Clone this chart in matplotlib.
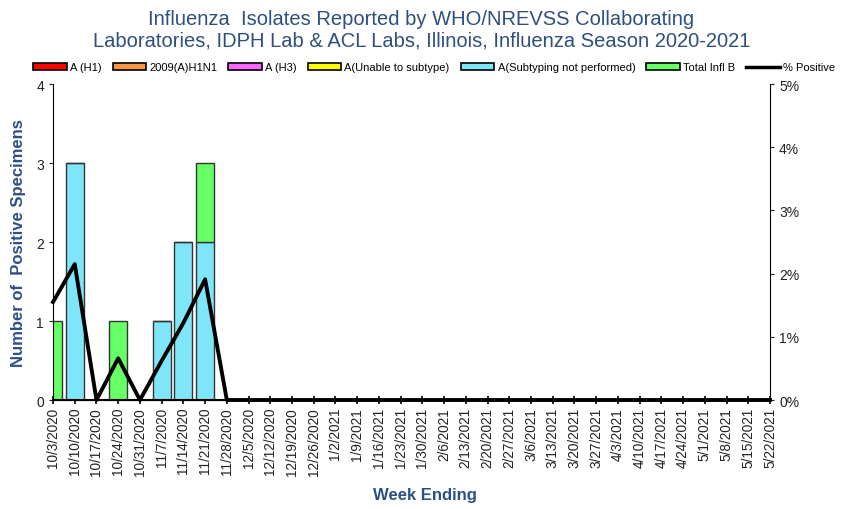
import numpy as np
import matplotlib
matplotlib.use("Agg")
import matplotlib.pyplot as plt
from matplotlib.patches import Patch
from matplotlib.lines import Line2D

plt.rcParams["font.family"] = ["Liberation Sans", "DejaVu Sans"]

weeks = ["10/3/2020", "10/10/2020", "10/17/2020", "10/24/2020", "10/31/2020",
         "11/7/2020", "11/14/2020", "11/21/2020", "11/28/2020", "12/5/2020",
         "12/12/2020", "12/19/2020", "12/26/2020", "1/2/2021", "1/9/2021",
         "1/16/2021", "1/23/2021", "1/30/2021", "2/6/2021", "2/13/2021",
         "2/20/2021", "2/27/2021", "3/6/2021", "3/13/2021", "3/20/2021",
         "3/27/2021", "4/3/2021", "4/10/2021", "4/17/2021", "4/24/2021",
         "5/1/2021", "5/8/2021", "5/15/2021", "5/22/2021"]
n = len(weeks)

a_h1 = [0] * n
h1n1_2009 = [0] * n
a_h3 = [0] * n
a_unable = [0] * n
a_not_performed = [0, 3, 0, 0, 0, 1, 2, 2] + [0] * (n - 8)
infl_b = [1, 0, 0, 1, 0, 0, 0, 1] + [0] * (n - 8)
pct_positive = [1.55, 2.15, 0.0, 0.66, 0.0, 0.62, 1.22, 1.91] + [0.0] * (n - 8)

series = [
    ("A (H1)", a_h1, "#ff0000"),
    ("2009(A)H1N1", h1n1_2009, "#f79646"),
    ("A (H3)", a_h3, "#ff66ff"),
    ("A(Unable to subtype)", a_unable, "#ffff00"),
    ("A(Subtyping not performed)", a_not_performed, "#7fe6fa"),
    ("Total Infl B", infl_b, "#66ff66"),
]

blue = "#2b5088"
title_blue = "#2e4f7f"

fig = plt.figure(figsize=(8.43, 5.10), dpi=100)
ax = fig.add_axes([0.0629, 0.2137, 0.8505, 0.6196])

x = np.arange(n)
bottom = np.zeros(n)
for label, vals, col in series:
    vals = np.array(vals, dtype=float)
    ax.bar(x, vals, width=0.83, bottom=bottom, color=col, edgecolor="#333333",
           linewidth=1.0, zorder=2)
    bottom += vals

ax.set_xlim(0, n - 1)
ax.set_ylim(0, 4)
ax.set_yticks([0, 1, 2, 3, 4])
ax.set_xticks(x)
ax.set_xticklabels(weeks, rotation=90, fontsize=9.8, color="#222222")
ax.tick_params(axis="x", direction="inout", length=6, width=1.2, pad=2)
ax.tick_params(axis="y", direction="out", length=3, labelsize=10, colors="#222222")
ax.spines["top"].set_visible(False)
ax.spines["right"].set_visible(False)
ax.spines["bottom"].set_linewidth(1.5)
ax.set_ylabel("Number of  Positive Specimens", fontsize=12, fontweight="bold",
              color=blue, labelpad=7)
ax.set_xlabel("Week Ending", fontsize=12, fontweight="bold", color=blue)
ax.xaxis.set_label_coords(0.519, -0.275)

ax2 = ax.twinx()
ax2.plot(x, pct_positive, color="black", linewidth=2.8, zorder=3, clip_on=False)
ax2.set_ylim(0, 5)
ax2.set_yticks([0, 1, 2, 3, 4, 5])
ax2.set_yticklabels([f"{v}%" for v in range(6)])
ax2.tick_params(axis="y", direction="out", length=3, labelsize=10, colors="#222222")
ax2.spines["top"].set_visible(False)
ax2.spines["left"].set_visible(False)
ax2.set_ylabel("Percent Positive", fontsize=12, fontweight="bold", color=blue,
               labelpad=38)

fig.suptitle("Influenza  Isolates Reported by WHO/NREVSS Collaborating\n"
             "Laboratories, IDPH Lab & ACL Labs, Illinois, Influenza Season 2020-2021",
             fontsize=14.5, color=title_blue, y=0.98, linespacing=1.15)

handles = [Patch(facecolor=c, edgecolor="black", linewidth=1.2, label=l)
           for l, v, c in series]
handles.append(Line2D([0], [0], color="black", linewidth=2.5, label="% Positive"))
fig.legend(handles=handles, loc="center", bbox_to_anchor=(0.515, 0.866), ncol=7,
           frameon=False, fontsize=8, handlelength=3.0, handleheight=0.55,
           handletextpad=0.3, columnspacing=1.0, borderpad=0.2)

fig.savefig("out.png", dpi=100)
